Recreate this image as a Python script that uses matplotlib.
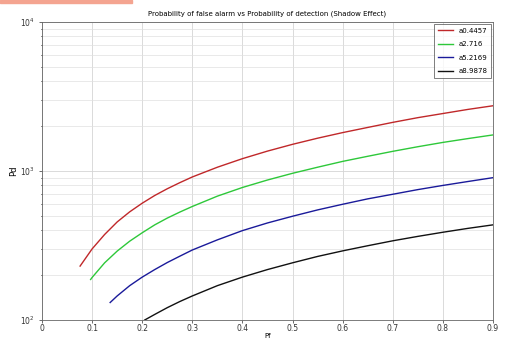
import matplotlib
matplotlib.use("Agg")
import matplotlib.pyplot as plt
import matplotlib.ticker as ticker
from matplotlib.patches import Rectangle

# values
pf_red = [0.076, 0.1, 0.125, 0.15, 0.175, 0.2, 0.225, 0.25, 0.275, 0.3, 0.35, 0.4,
          0.45, 0.5, 0.55, 0.6, 0.65, 0.7, 0.75, 0.8, 0.85, 0.9]
z_red = [230, 300, 375, 455, 532, 608, 685, 760, 835, 912, 1060, 1210,
         1360, 1510, 1660, 1810, 1960, 2120, 2280, 2430, 2590, 2740]

pf_green = [0.097, 0.1, 0.125, 0.15, 0.175, 0.2, 0.225, 0.25, 0.275, 0.3, 0.35, 0.4,
            0.45, 0.5, 0.55, 0.6, 0.65, 0.7, 0.75, 0.8, 0.85, 0.9]
z_green = [187, 193, 242, 290, 338, 385, 435, 483, 530, 578, 678, 775,
           870, 965, 1060, 1160, 1255, 1355, 1455, 1555, 1650, 1746]

pf_blue = [0.136, 0.15, 0.175, 0.2, 0.225, 0.25, 0.275, 0.3, 0.35, 0.4,
           0.45, 0.5, 0.55, 0.6, 0.65, 0.7, 0.75, 0.8, 0.85, 0.9]
z_blue = [131, 145, 170, 194, 218, 243, 268, 295, 345, 398,
          448, 497, 548, 598, 650, 698, 750, 800, 850, 902]

pf_black = [0.205, 0.225, 0.25, 0.275, 0.3, 0.35, 0.4, 0.45, 0.5, 0.55,
            0.6, 0.65, 0.7, 0.75, 0.8, 0.85, 0.9]
z_black = [100, 109, 121, 133, 145, 170, 194, 218, 242, 267,
           291, 315, 340, 364, 388, 412, 435]

labels = ["a0.4457", "a2.716", "a5.2169", "a8.9878"]
colors = ["#c0282a", "#2ec83a", "#1a1a9a", "#111111"]
x_ticks = [0, 0.1, 0.2, 0.3, 0.4, 0.5, 0.6, 0.7, 0.8, 0.9]
x_tick_labels = ["0", "0.1", "0.2", "0.3", "0.4", "0.5", "0.6", "0.7", "0.8", "0.9"]

fig = plt.figure(figsize=(5.08, 3.43), dpi=100)
ax = fig.add_axes([0.0827, 0.0671, 0.8878, 0.8688])

series = [(pf_red, z_red), (pf_green, z_green), (pf_blue, z_blue), (pf_black, z_black)]
for (xs, ys), lab, col in zip(series, labels, colors):
    ax.semilogy(xs, ys, color=col, lw=1.0, label=lab)

ax.set_xlim(0, 0.9)
ax.set_ylim(100, 10000)
ax.set_xticks(x_ticks)
ax.set_xticklabels(x_tick_labels)
ax.yaxis.set_major_locator(ticker.LogLocator(base=10))
ax.yaxis.set_minor_locator(ticker.LogLocator(base=10, subs=range(2, 10)))
ax.yaxis.set_minor_formatter(ticker.NullFormatter())

ax.grid(True, which="major", color="#d4d4d4", lw=0.6)
ax.grid(True, which="minor", axis="y", color="#e0e0e0", lw=0.5)
ax.tick_params(labelsize=5.5, length=2, width=0.5, colors="#333333")
ax.tick_params(axis="x", pad=1)
ax.tick_params(which="minor", length=1)
for sp in ax.spines.values():
    sp.set_color("#666666")
    sp.set_linewidth(0.6)

ax.set_title("Probability of false alarm vs Probability of detection (Shadow Effect)",
             fontsize=5, pad=5)
ax.set_xlabel("Pf", fontsize=5, labelpad=0)
ax.set_ylabel("Pd", fontsize=6, labelpad=1)

leg = ax.legend(loc="upper right", fontsize=5, frameon=True, fancybox=False,
                handlelength=2.2, borderpad=0.5, labelspacing=1.1,
                borderaxespad=0.3)
leg.get_frame().set_edgecolor("#444444")
leg.get_frame().set_linewidth(0.6)

# salmon strip at the top-left corner of the screenshot
fig.patches.append(Rectangle((0, 0.99), 0.26, 0.01, transform=fig.transFigure,
                             color="#f4a490", zorder=0))

fig.savefig("out.png", dpi=100)
